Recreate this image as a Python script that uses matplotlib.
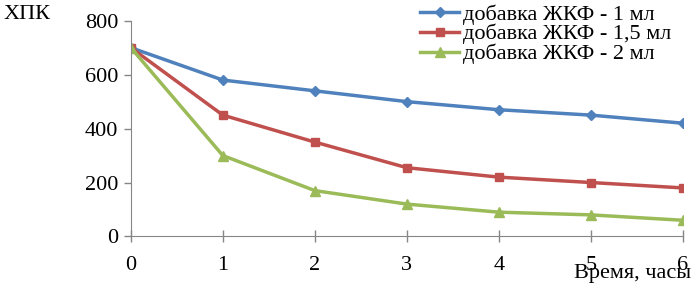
import matplotlib
matplotlib.use('Agg')
import matplotlib.pyplot as plt

hours = [0, 1, 2, 3, 4, 5, 6]  # time, hours
dose_1 = [700, 580, 540, 500, 470, 450, 420]
dose_15 = [700, 450, 350, 255, 220, 200, 180]
dose_2 = [700, 300, 170, 120, 90, 80, 60]
labels = ['добавка ЖКФ - 1 мл', 'добавка ЖКФ - 1,5 мл', 'добавка ЖКФ - 2 мл']

plt.rcParams['font.family'] = ['Liberation Serif', 'DejaVu Serif']
plt.rcParams['font.size'] = 16

fig = plt.figure(figsize=(6.96, 2.88), dpi=100)
ax = fig.add_axes([0.188, 0.179, 0.793, 0.749])

ax.plot(hours, dose_1, color='#4F81BD', marker='D', markersize=5, linewidth=2.5, label=labels[0])
ax.plot(hours, dose_15, color='#C0504D', marker='s', markersize=6, linewidth=2.5, label=labels[1])
ax.plot(hours, dose_2, color='#9BBB59', marker='^', markersize=7, linewidth=2.5, label=labels[2])

ax.set_xlim(0, 6)
ax.set_ylim(0, 800)
ax.set_xticks(hours)
ax.set_yticks([0, 200, 400, 600, 800])
for side in ['top', 'right']:
    ax.spines[side].set_visible(False)
for side in ['left', 'bottom']:
    ax.spines[side].set_color('#868686')
ax.tick_params(axis='both', colors='#868686', labelcolor='black', length=5, width=1)
ax.tick_params(axis='x', direction='inout', length=8, pad=10)
ax.tick_params(axis='y', pad=4)

fig.text(0.005, 0.948, 'ХПК', ha='left', va='center', fontsize=16)
fig.text(0.993, 0.05, 'Время, часы', ha='right', va='center', fontsize=16)

ax.legend(loc='upper left', bbox_to_anchor=(0.604, 0.986), bbox_transform=fig.transFigure,
          frameon=False, handlelength=1.75, handletextpad=0.15, labelspacing=-0.03,
          borderaxespad=0, borderpad=0, fontsize=16)

fig.savefig('out.png', dpi=100)
